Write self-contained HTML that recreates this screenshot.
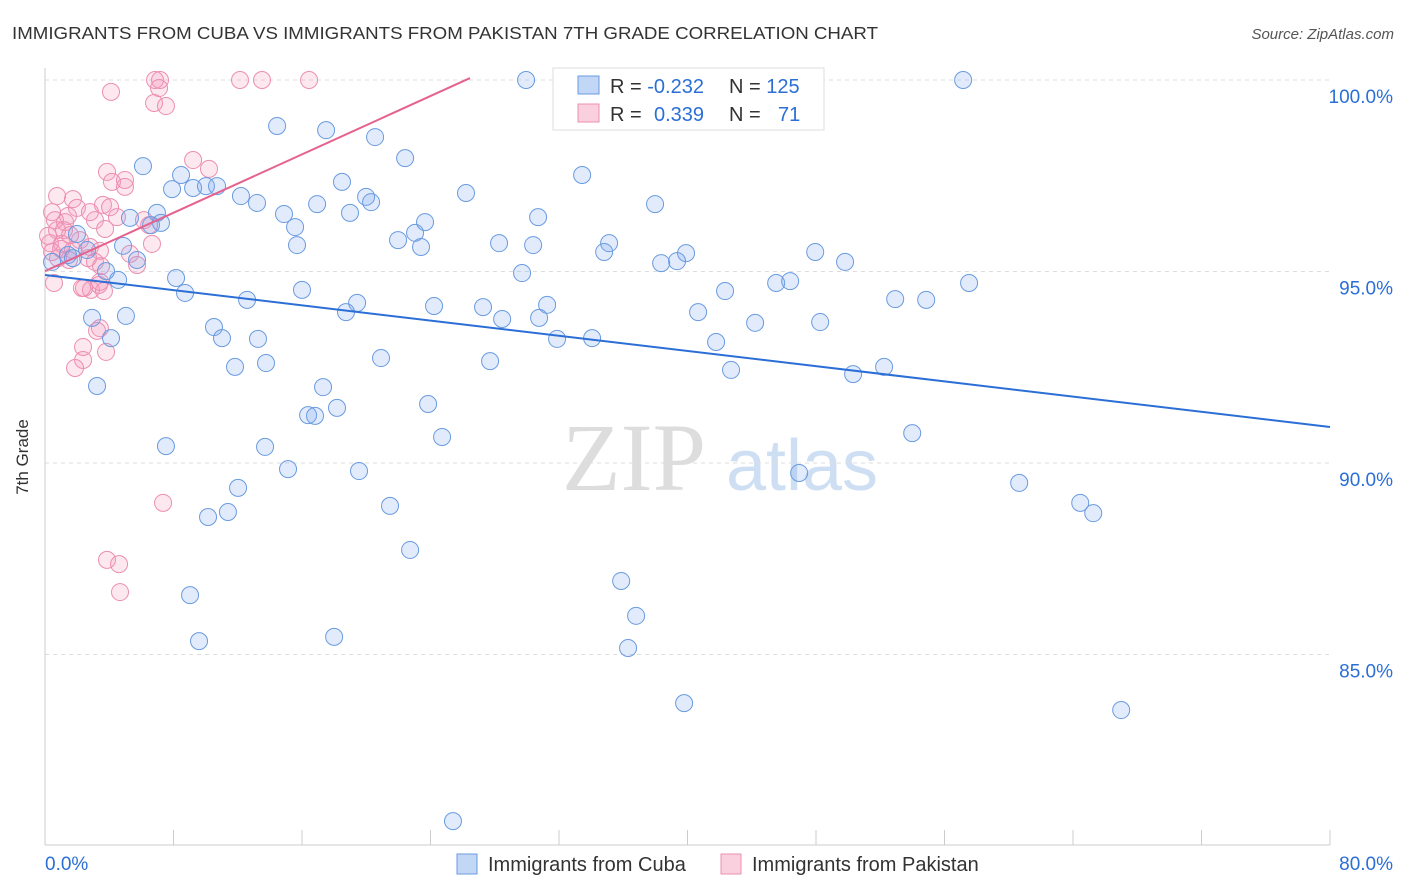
<!DOCTYPE html>
<html><head><meta charset="utf-8"><style>
body{margin:0;background:#fff;font-family:"Liberation Sans",sans-serif}
svg{display:block}
</style></head><body>
<svg width="1406" height="892" xmlns="http://www.w3.org/2000/svg">
<text x="12" y="39" font-size="17.5" fill="#333" textLength="866" lengthAdjust="spacingAndGlyphs">IMMIGRANTS FROM CUBA VS IMMIGRANTS FROM PAKISTAN 7TH GRADE CORRELATION CHART</text>
<text x="1394" y="39" font-size="15" fill="#555" font-style="italic" text-anchor="end">Source: ZipAtlas.com</text>
<g>
<text x="634" y="490" font-size="96" fill="#ddd" font-family="Liberation Serif,serif" text-anchor="middle">ZIP</text>
<text x="802" y="490" font-size="72" fill="#cfdff3" text-anchor="middle">atlas</text>
</g>
<g id="grid"></g>
<g id="axes"></g>
<g id="pts"></g>
<g id="lines"></g>
<text x="28" y="457" font-size="17" fill="#333" transform="rotate(-90 28 457)" text-anchor="middle">7th Grade</text>
<g>
<rect x="553" y="68" width="271" height="62" fill="#fff" stroke="#ddd"/>
<rect x="578" y="76" width="21" height="18" fill="rgba(120,165,235,0.45)" stroke="#6a9be0"/>
<rect x="578" y="104" width="21" height="18" fill="rgba(245,150,185,0.45)" stroke="#ec8fb0"/>
<text x="610" y="93" font-size="20" fill="#333">R = <tspan fill="#2b6fd6">-0.232</tspan></text>
<text x="729" y="93" font-size="20" fill="#333">N = <tspan fill="#2b6fd6">125</tspan></text>
<text x="610" y="121" font-size="20" fill="#333">R = <tspan fill="#2b6fd6" x="654">0.339</tspan></text>
<text x="729" y="121" font-size="20" fill="#333">N = <tspan fill="#2b6fd6" x="778">71</tspan></text>
</g>
<g>
<rect x="457" y="854" width="20" height="20" fill="rgba(120,165,235,0.45)" stroke="#6a9be0"/>
<text x="488" y="871" font-size="20" fill="#333">Immigrants from Cuba</text>
<rect x="721" y="854" width="20" height="20" fill="rgba(245,150,185,0.45)" stroke="#ec8fb0"/>
<text x="752" y="871" font-size="20" fill="#333">Immigrants from Pakistan</text>
</g>
<script>
const blueX=[29.95,57.16,14.45,17.50,20.55,22.42,6.10,33.44,8.47,18.49,7.91,9.22,10.02,10.71,26.21,12.20,19.99,20.30,16.94,13.20,37.98,14.88,18.99,6.97,5.29,30.70,23.66,6.60,7.22,15.57,1.99,23.04,21.98,28.27,30.39,35.12,23.41,15.69,4.86,2.62,1.43,1.74,34.81,47.95,39.91,39.35,38.36,49.81,5.73,0.44,3.80,29.70,4.55,8.16,45.52,46.39,57.53,42.34,16.00,8.72,12.58,19.43,31.26,52.93,54.86,24.22,27.27,18.74,40.66,28.46,30.76,44.21,48.26,2.93,5.04,10.52,11.02,13.26,31.88,34.06,4.11,41.78,20.92,27.71,11.83,13.76,42.71,50.31,52.24,3.24,17.31,18.18,16.38,16.81,23.85,24.72,7.53,13.70,53.99,15.13,19.55,46.95,12.02,60.65,64.45,65.26,21.48,10.15,11.39,22.73,35.87,9.03,36.80,18.00,9.59,36.30,39.79,67.00,25.40];
const blueY=[100.0,100.0,98.80,98.69,98.51,97.96,97.75,97.52,97.52,97.34,97.15,97.18,97.23,97.23,97.05,96.97,96.95,96.81,96.76,96.79,96.76,96.50,96.53,96.53,96.40,96.42,96.29,96.21,96.27,96.16,95.98,96.01,95.82,95.74,95.69,95.74,95.64,95.69,95.67,95.56,95.43,95.35,95.51,95.51,95.48,95.27,95.22,95.25,95.30,95.25,95.01,94.96,94.78,94.83,94.70,94.75,94.70,94.49,94.52,94.44,94.26,94.18,94.13,94.28,94.26,94.10,94.07,93.94,93.94,93.76,93.79,93.66,93.68,93.79,93.84,93.55,93.26,93.24,93.24,93.26,93.26,93.16,92.74,92.66,92.51,92.61,92.43,92.32,92.51,92.01,91.98,91.44,91.25,91.23,91.54,90.68,90.44,90.42,90.78,89.84,89.79,89.74,89.35,89.48,88.96,88.69,88.88,88.59,88.72,87.73,86.92,86.55,86.01,85.46,85.35,85.17,83.73,83.55,80.65];
const pinkX=[6.85,7.16,12.14,13.51,16.44,35.37,4.11,7.10,6.79,7.53,9.22,10.21,3.86,4.17,4.98,4.98,0.75,1.74,3.61,1.99,2.80,1.43,0.44,0.62,1.25,4.48,6.16,6.48,0.75,1.18,2.18,0.31,1.06,2.80,3.42,1.00,0.44,1.74,5.29,5.73,3.11,3.49,1.49,0.56,2.30,2.86,3.36,3.67,3.42,2.43,3.42,3.24,2.37,3.80,2.37,1.87,7.35,3.86,4.61,4.67,6.66,4.05,3.11,1.56,0.19,0.81,2.68,3.74];
const pinkY=[100,100,100,100,100,100,99.69,99.79,99.40,99.32,97.91,97.68,97.60,97.34,97.39,97.21,96.97,96.89,96.74,96.66,96.55,96.45,96.55,96.34,96.29,96.42,96.34,96.21,96.08,96.08,95.82,95.74,95.72,95.64,95.54,95.59,95.51,95.56,95.46,95.17,95.25,95.14,95.30,94.70,94.57,94.52,94.65,94.49,94.73,94.57,93.52,93.45,93.03,92.90,92.69,92.48,88.96,87.47,87.36,86.63,95.72,96.68,96.34,95.95,95.93,95.35,95.35,96.11];
const blueTrend=[94.91,90.94];
const pinkTrend=[95.01,100.05,26.46];
const yTicks=[100,95,90,85];
const xTickLabels=["0.0%","80.0%"];
const NS="http://www.w3.org/2000/svg";
const sx=v=>45+v/80*1285;
const sy=v=>80+(100-v)*38.3;
function mk(tag,attrs,parent){const e=document.createElementNS(NS,tag);for(const k in attrs)e.setAttribute(k,attrs[k]);parent.appendChild(e);return e;}
const grid=document.getElementById('grid'),axes=document.getElementById('axes'),pts=document.getElementById('pts'),lines=document.getElementById('lines');
yTicks.forEach(t=>{
 const l=mk('line',{x1:45,x2:1330,y1:sy(t),y2:sy(t),stroke:'#ddd','stroke-dasharray':'4,4'},grid);
 
 
 const tx=mk('text',{x:1393,y:sy(t)+23,'font-size':19,fill:'#2b6fd6','text-anchor':'end'},axes);
 tx.textContent=t.toFixed(1)+'%';
 
 
});
mk('line',{x1:45,x2:45,y1:68,y2:845,stroke:'#ccc'},axes);
mk('line',{x1:45,x2:1330,y1:845,y2:845,stroke:'#ccc'},axes);
for(let i=0;i<=10;i++){const t=mk('line',{x1:sx(i*8),x2:sx(i*8),y1:830,y2:845,stroke:'#ccc'},axes);
 
 }
const xl0=mk('text',{x:45,y:870,'font-size':19,fill:'#2b6fd6'},axes);xl0.textContent=xTickLabels[0];


const xl1=mk('text',{x:1393,y:870,'font-size':19,fill:'#2b6fd6','text-anchor':'end'},axes);xl1.textContent=xTickLabels[1];


pinkX.forEach((x,i)=>{const c=mk('circle',{cx:sx(x),cy:sy(pinkY[i]),r:8.5,fill:'rgba(245,150,185,0.22)',stroke:'#ec8fb0','stroke-width':1},pts);
 
 });
blueX.forEach((x,i)=>{const c=mk('circle',{cx:sx(x),cy:sy(blueY[i]),r:8.5,fill:'rgba(120,165,235,0.22)',stroke:'#6a9be0','stroke-width':1},pts);
 
 });
const bl=mk('line',{x1:sx(0),y1:sy(blueTrend[0]),x2:sx(80),y2:sy(blueTrend[1]),stroke:'#2b6fd6','stroke-width':2},lines);


const pl=mk('line',{x1:sx(0),y1:sy(pinkTrend[0]),x2:sx(pinkTrend[2]),y2:sy(pinkTrend[1]),stroke:'#e5628f','stroke-width':2},lines);


</script>
</svg>
</body></html>
